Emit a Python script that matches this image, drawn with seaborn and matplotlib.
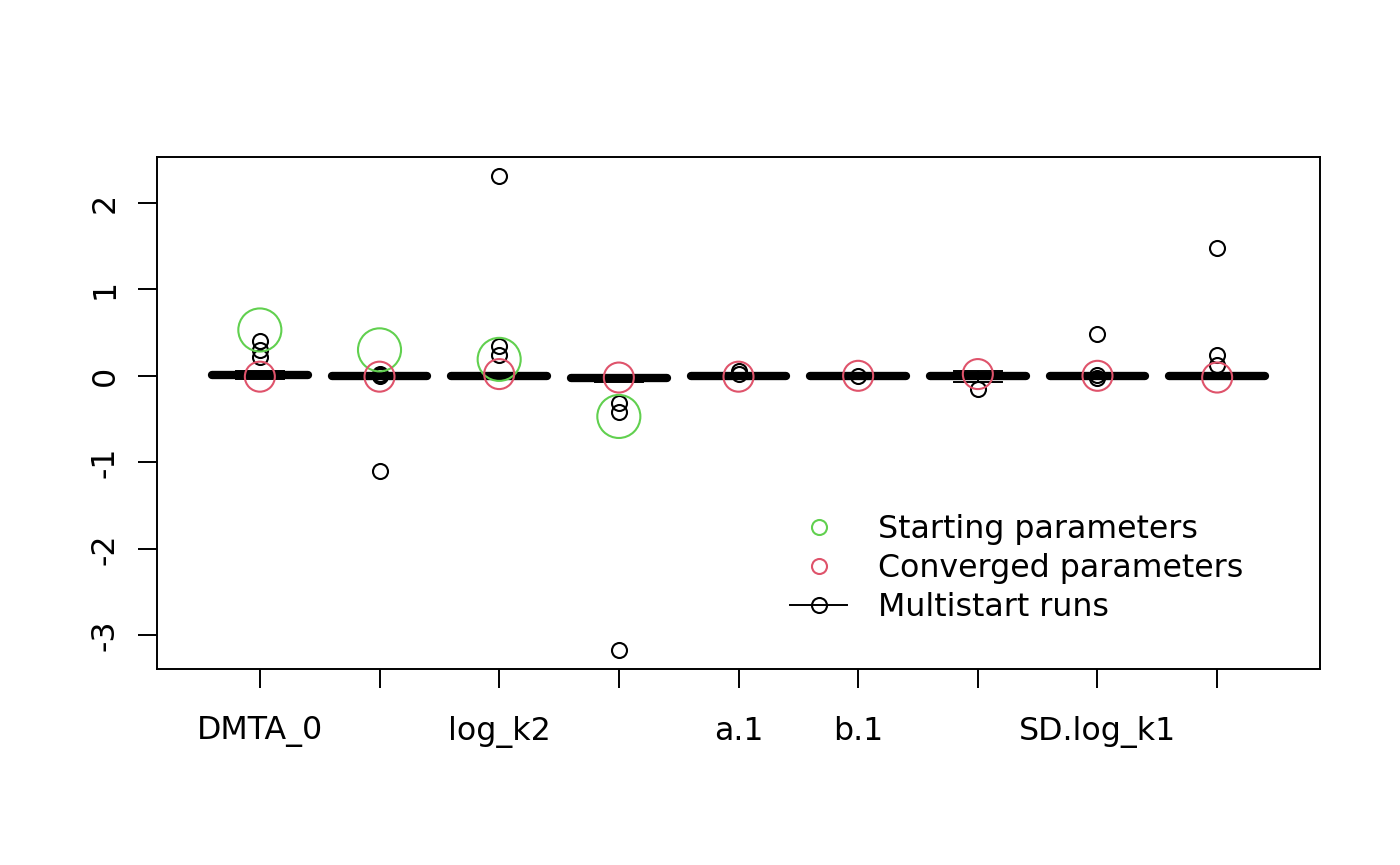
import numpy as np
import pandas as pd
import matplotlib
matplotlib.use("Agg")
import matplotlib.pyplot as plt
from matplotlib.lines import Line2D
import seaborn as sns

# parameter names (R dropped the overlapping axis labels, so some are blank)
param_names = ["DMTA_0", "log_k1", "log_k2", "g_qlogis", "a.1", "b.1",
               "SD.DMTA_0", "SD.log_k1", "SD.log_k2"]
tick_labels = ["DMTA_0", "", "log_k2", "", "a.1", "b.1", "", "SD.log_k1", ""]

# scaled multistart run results, one list per parameter
runs_DMTA_0 = [0.40, 0.30, 0.22, 0.06, 0.04, 0.03, 0.02, 0.02,
               0.01, 0.01, 0.00, 0.00, -0.01, -0.02, -0.03, -0.04]
runs_log_k1 = [0.02, 0.015, 0.01, 0.005, -0.005, -1.10, 0, 0,
               0, 0, 0, 0, 0, 0, 0, 0]
runs_log_k2 = [2.31, 0.34, 0.24, 0.01, 0.005, 0, 0, 0,
               0, 0, -0.005, -0.01, -0.01, -0.015, -0.02, -0.02]
runs_g_qlogis = [-3.17, -0.42, -0.31, -0.07, -0.05, -0.04, -0.03, -0.03,
                 -0.02, -0.02, -0.02, -0.01, -0.01, 0.0, 0.0, 0.01]
runs_a1 = [0.05, 0.025, 0, 0, 0, 0, 0, 0, 0, 0, 0, 0, 0, 0, 0, 0]
runs_b1 = [0.003, 0, 0, 0, 0, 0, 0, 0, 0, 0, 0, 0, 0, 0, 0, 0]
runs_SD_DMTA_0 = [-0.15, -0.07, -0.05, -0.03, -0.03, -0.02, -0.01, 0,
                  0, 0.01, 0.01, 0.02, 0.02, 0.03, 0.04, 0.05]
runs_SD_log_k1 = [0.48, 0.005, -0.03, 0, 0, 0, 0, 0, 0, 0, 0, 0, 0, 0, 0, 0]
runs_SD_log_k2 = [1.48, 0.24, 0.12, 0, 0, 0, 0, 0,
                  0, 0, -0.005, -0.005, -0.01, -0.01, -0.01, -0.01]

# starting (only degradation parameters) and converged parameters
start_names = ["DMTA_0", "log_k1", "log_k2", "g_qlogis"]
start_vals = [0.53, 0.30, 0.19, -0.47]
conv_vals = [-0.01, -0.01, 0.02, -0.02, -0.01, 0.0, 0.02, 0.0, -0.02]

all_runs = [runs_DMTA_0, runs_log_k1, runs_log_k2, runs_g_qlogis, runs_a1,
            runs_b1, runs_SD_DMTA_0, runs_SD_log_k1, runs_SD_log_k2]
df = pd.DataFrame({
    "parameter": np.repeat(param_names, [len(r) for r in all_runs]),
    "value": np.concatenate(all_runs),
})

green = "#61D04F"
red = "#DF536B"
fs = 22.8

plt.rcParams["font.family"] = ["DejaVu Sans"]
fig = plt.figure(figsize=(14, 8.65), dpi=100)
ax = fig.add_axes([0.1121, 0.2266, 0.8308, 0.5919])

sns.boxplot(data=df, x="parameter", y="value", order=param_names,
            color="black", fill=False, width=0.8, whis=1.5, linewidth=1.4,
            medianprops=dict(linewidth=6, solid_capstyle="round"),
            whiskerprops=dict(linestyle="--"),
            flierprops=dict(marker="o", markersize=10.8, markerfacecolor="none",
                            markeredgecolor="black", markeredgewidth=1.5),
            ax=ax)

sns.stripplot(x=start_names, y=start_vals, order=param_names, jitter=False,
              s=31, marker="o", facecolor="none", edgecolor=green,
              linewidth=1.5, color=green, ax=ax)
sns.stripplot(x=param_names, y=conv_vals, order=param_names, jitter=False,
              s=21.6, marker="o", facecolor="none", edgecolor=red,
              linewidth=1.5, color=red, ax=ax)

ax.set_xlim(-0.86, 8.86)
ax.set_ylim(-3.39, 2.53)
ax.set_xlabel("")
ax.set_ylabel("")
ax.set_xticks(range(len(param_names)))
ax.set_xticklabels(tick_labels)
ax.set_yticks([-3, -2, -1, 0, 1, 2])
ax.set_yticklabels(["-3", "-2", "-1", "0", "1", "2"])
ax.tick_params(axis="both", length=14, width=1.4, labelsize=fs, color="black")
ax.tick_params(axis="x", pad=19.5)
ax.tick_params(axis="y", pad=12, labelrotation=90)
for lab in ax.get_yticklabels():
    lab.set_va("center")
for sp in ax.spines.values():
    sp.set_linewidth(1.4)
    sp.set_color("black")

handles = [
    Line2D([], [], linestyle="none", marker="o", markersize=10.8,
           markerfacecolor="none", markeredgecolor=green, markeredgewidth=1.5),
    Line2D([], [], linestyle="none", marker="o", markersize=10.8,
           markerfacecolor="none", markeredgecolor=red, markeredgewidth=1.5),
    Line2D([], [], color="black", linewidth=1.4, marker="o", markersize=10.8,
           markerfacecolor="none", markeredgecolor="black", markeredgewidth=1.5),
]
ax.legend(handles, ["Starting parameters", "Converged parameters", "Multistart runs"],
          loc="lower left", bbox_to_anchor=(0.533, 0.065), frameon=False,
          fontsize=fs, handlelength=1.83, handletextpad=0.95, labelspacing=0.25,
          borderaxespad=0)

fig.savefig("out.png", dpi=100, facecolor="white")
